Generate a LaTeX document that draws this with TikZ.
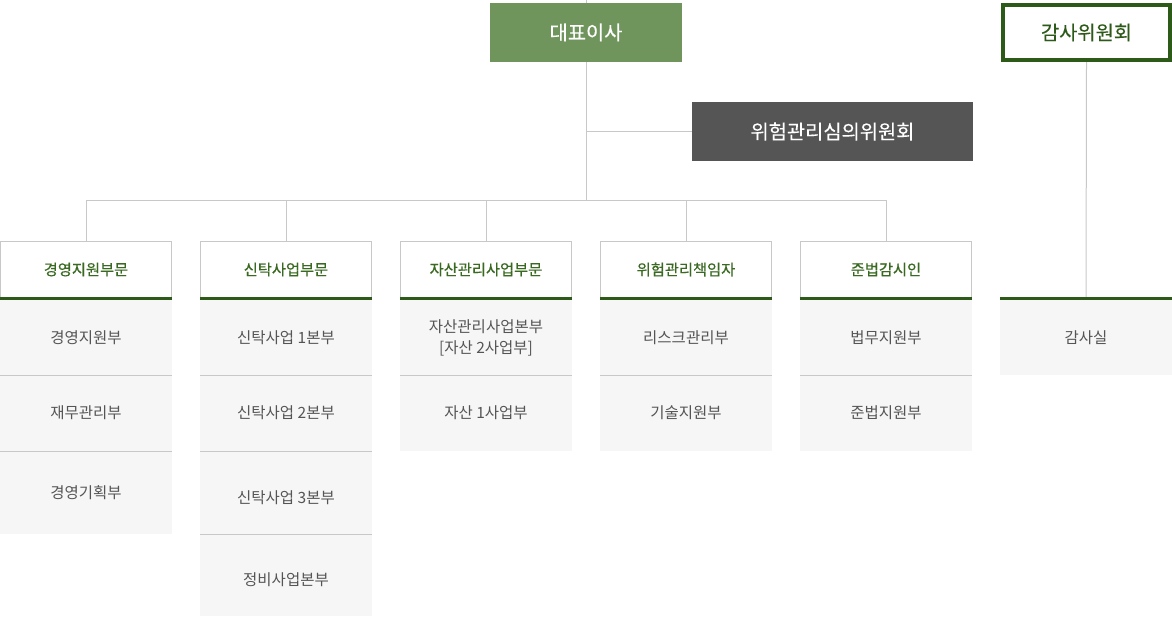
\documentclass[tikz,border=0pt]{standalone}
\usepackage{fontspec}
\setmainfont{Noto Sans CJK KR}
\newfontfamily\hdrfont[FakeBold=0.5]{Noto Sans CJK KR}
\newfontfamily\topfont[FakeBold=0.3]{Noto Sans CJK KR}
\definecolor{ceogreen}{HTML}{6F955C}
\definecolor{riskgray}{HTML}{555555}
\definecolor{darkgreen}{HTML}{2D5A18}
\definecolor{hdrtext}{HTML}{3A6A22}
\definecolor{linegray}{HTML}{C8C8C8}
\definecolor{cellfill}{HTML}{F6F6F6}
\definecolor{celltext}{HTML}{555555}
\newcommand{\lowered}[2]{\raisebox{-#1}[\height][\depth]{#2}}
\begin{document}
\begin{tikzpicture}[x=1pt,y=-1pt,
  topbox/.style={inner sep=0pt, font=\topfont\fontsize{19.8}{24}\selectfont},
  hdr/.style={draw=linegray, line width=1pt, fill=white, minimum width=171pt, minimum height=57pt, inner sep=0pt, text=hdrtext, font=\hdrfont\fontsize{15.3}{18}\selectfont},
  cell/.style={fill=cellfill, minimum width=172pt, inner sep=0pt, text=celltext, align=center, font=\fontsize{15.5}{21}\selectfont},
  sep/.style={draw=linegray, line width=1pt},
  conn/.style={draw=linegray, line width=1pt},
  bar/.style={draw=darkgreen, line width=3pt}
]
\useasboundingbox (0,0) rectangle (1172,616);
% top boxes
\node[topbox, fill=ceogreen, text=white, minimum width=192pt, minimum height=59pt] (ceo) at (586,32.5) {대표이사};
\node[topbox, fill=riskgray, text=white, minimum width=281pt, minimum height=59pt] (risk) at (832.5,131.5) {위험관리심의위원회};
\node[topbox, draw=darkgreen, line width=4pt, fill=white, text=darkgreen, minimum width=167pt, minimum height=55pt] (audit) at (1086.5,32.5) {감사위원회};
\coordinate (topend) at (586,0);
\coordinate (bus) at (586,200);
% headers
\node[hdr] (h1) at (86,269.5) {경영지원부문};
\node[hdr] (h2) at (286,269.5) {신탁사업부문};
\node[hdr] (h3) at (486,269.5) {자산관리사업부문};
\node[hdr] (h4) at (686,269.5) {위험관리책임자};
\node[hdr] (h5) at (886,269.5) {준법감시인};
% cells column 1
\node[cell, minimum height=75pt] (c11) at (86,337.5) {경영지원부};
\node[cell, minimum height=76pt] (c12) at (86,413) {재무관리부};
\node[cell, minimum height=83pt] (c13) at (86,492.5) {경영기획부};
% column 2
\node[cell, minimum height=75pt] (c21) at (286,337.5) {신탁사업 1본부};
\node[cell, minimum height=76pt] (c22) at (286,413) {신탁사업 2본부};
\node[cell, minimum height=83pt] (c23) at (286,492.5) {\lowered{5pt}{신탁사업 3본부}};
\node[cell, minimum height=82pt] (c24) at (286,575) {\lowered{5pt}{정비사업본부}};
% column 3
\node[cell, minimum height=75pt] (c31) at (486,337.5) {자산관리사업본부\\{}{[}자산 2사업부{]}};
\node[cell, minimum height=76pt] (c32) at (486,413) {자산 1사업부};
% column 4
\node[cell, minimum height=75pt] (c41) at (686,337.5) {리스크관리부};
\node[cell, minimum height=76pt] (c42) at (686,413) {기술지원부};
% column 5
\node[cell, minimum height=75pt] (c51) at (886,337.5) {법무지원부};
\node[cell, minimum height=76pt] (c52) at (886,413) {준법지원부};
% column 6
\node[cell, minimum height=75pt] (c61) at (1086,337.5) {감사실};
% separators
\foreach \c in {c11,c12,c21,c22,c23,c31,c41,c51}{
  \draw[sep] (\c.south west) -- (\c.south east);
}
% connectors
\draw[conn] (topend) -- (ceo.north);
\draw[conn] (ceo.south) -- (bus);
\draw[conn] (ceo.south |- risk.west) -- (risk.west);
\foreach \h in {h1,h2,h3,h4,h5}{
  \draw[conn] (bus) -| (\h.north);
}
\draw[conn] (audit.south) -- (c61.north);
% green bars
\foreach \c in {c11,c21,c31,c41,c51,c61}{
  \draw[bar] ([yshift=1.5pt]\c.north west) -- ([yshift=1.5pt]\c.north east);
}
\end{tikzpicture}
\end{document}
